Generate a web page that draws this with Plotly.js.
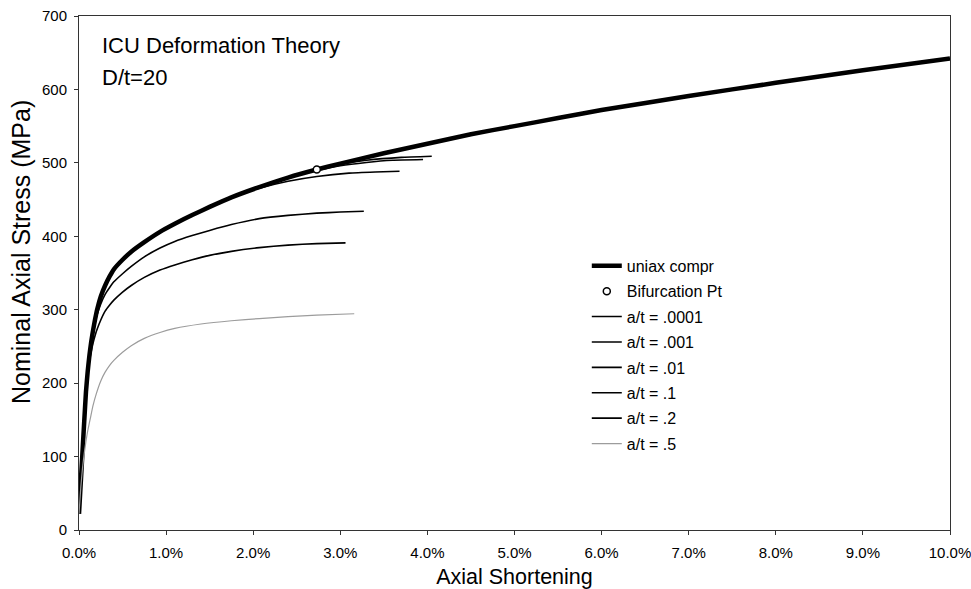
<!DOCTYPE html>
<html>
<head>
<meta charset="utf-8">
<script src="https://cdn.plot.ly/plotly-3.0.1.min.js"></script>
<style>html,body{margin:0;padding:0;background:#fff}#chart{width:971px;height:589px}</style>
</head>
<body>
<div id="chart"></div>
<script>
// Axial shortening (%) and nominal axial stress (MPa)
const uniaxX = [0, 0.03, 0.06, 0.08, 0.1, 0.12, 0.14, 0.16, 0.185, 0.21, 0.25, 0.3, 0.35, 0.4, 0.5, 0.6, 0.75, 0.93, 1.1, 1.3, 1.5, 1.75, 2.07, 2.4, 2.73, 3.0, 3.5, 4, 4.5, 5, 5.5, 6, 7, 8, 9, 10];
const uniaxY = [22, 85, 148, 188, 216, 238, 256, 271, 287, 301, 318, 333, 345, 355, 368, 379, 392, 406, 417, 429, 440, 453, 467, 480, 491, 499, 513, 526, 539, 550, 561, 572, 591, 609, 626, 642];

const bifX = [2.73];
const bifY = [491];

const a0001X = [0, 0.03, 0.06, 0.08, 0.1, 0.12, 0.14, 0.16, 0.185, 0.21, 0.25, 0.3, 0.35, 0.4, 0.5, 0.6, 0.75, 0.93, 1.1, 1.3, 1.5, 1.75, 2.07, 2.4, 2.73, 3.0, 3.3, 3.7, 4.05];
const a0001Y = [22, 85, 148, 188, 216, 238, 256, 271, 287, 301, 318, 333, 345, 355, 368, 379, 392, 406, 417, 429, 440, 453, 467, 480, 491, 498, 503.5, 507.5, 509];

const a001X = [0, 0.03, 0.06, 0.08, 0.1, 0.12, 0.14, 0.16, 0.185, 0.21, 0.25, 0.3, 0.35, 0.4, 0.5, 0.6, 0.75, 0.93, 1.1, 1.3, 1.5, 1.75, 2.07, 2.4, 2.73, 3.0, 3.3, 3.6, 3.95];
const a001Y = [22, 85, 148, 188, 216, 238, 256, 271, 287, 301, 318, 333, 345, 355, 368, 379, 392, 406, 417, 429, 440, 453, 467, 480, 489.5, 496, 500.5, 503.5, 504.5];

const a01X = [0, 0.03, 0.06, 0.08, 0.1, 0.12, 0.14, 0.16, 0.185, 0.21, 0.25, 0.3, 0.35, 0.4, 0.5, 0.6, 0.75, 0.93, 1.1, 1.3, 1.5, 1.75, 2.07, 2.4, 2.73, 3.1, 3.4, 3.68];
const a01Y = [22, 85, 148, 188, 216, 238, 256, 271, 287, 301, 318, 333, 345, 355, 368, 379, 392, 406, 417, 429, 440, 453, 465.5, 475, 481.5, 486, 487.5, 488.5];

const a1X = [0, 0.03, 0.06, 0.08, 0.1, 0.12, 0.14, 0.16, 0.185, 0.21, 0.25, 0.3, 0.35, 0.4, 0.5, 0.6, 0.75, 0.93, 1.1, 1.3, 1.5, 1.75, 2.07, 2.4, 2.73, 3.0, 3.27];
const a1Y = [22, 85, 148, 188, 216, 238, 255, 269, 283, 294, 308, 321, 330, 338, 349, 359, 372, 384, 393, 401, 408, 416, 424, 428.5, 431.5, 433, 434];

const a2X = [0, 0.03, 0.06, 0.08, 0.1, 0.12, 0.14, 0.16, 0.185, 0.21, 0.25, 0.3, 0.35, 0.4, 0.5, 0.6, 0.75, 0.93, 1.1, 1.3, 1.5, 1.75, 2.07, 2.4, 2.73, 3.06];
const a2Y = [22, 85, 148, 187, 213, 230, 243, 254, 265, 274, 286, 298, 306, 313, 324, 333, 344, 354, 361, 368, 374, 379.5, 384.5, 388, 390, 391];

const a5X = [0, 0.02, 0.04, 0.06, 0.08, 0.1, 0.13, 0.16, 0.2, 0.25, 0.3, 0.35, 0.4, 0.5, 0.6, 0.75, 0.93, 1.1, 1.4, 1.75, 2.07, 2.4, 2.73, 3.16];
const a5Y = [22, 57, 84, 104, 121, 135, 152, 169, 186, 203, 215, 224, 231, 242, 251, 261, 269, 274.5, 280.5, 285, 288, 290.5, 292.5, 294.5];

const names = ['uniax compr', 'Bifurcation Pt', 'a/t = .0001', 'a/t = .001', 'a/t = .01', 'a/t = .1', 'a/t = .2', 'a/t = .5'];

const thin = () => ({color: '#000', width: 1.6});
const traces = [
  {x: uniaxX, y: uniaxY, name: names[0], mode: 'lines', line: {color: '#000', width: 4.5}},
  {x: a0001X, y: a0001Y, name: names[2], mode: 'lines', line: thin()},
  {x: a001X, y: a001Y, name: names[3], mode: 'lines', line: thin()},
  {x: a01X, y: a01Y, name: names[4], mode: 'lines', line: thin()},
  {x: a1X, y: a1Y, name: names[5], mode: 'lines', line: thin()},
  {x: a2X, y: a2Y, name: names[6], mode: 'lines', line: thin()},
  {x: a5X, y: a5Y, name: names[7], mode: 'lines', line: {color: '#9c9c9c', width: 1.2}},
  {x: bifX, y: bifY, name: names[1], mode: 'markers', marker: {symbol: 'circle', size: 7, color: '#fff', line: {color: '#000', width: 1.5}}}
];
traces.forEach(t => {
  const r = names.indexOf(t.name) + 1;
  t.legendrank = r;
  t.legendgroup = 'g' + r;
  if (t.line) { t.line.shape = 'spline'; t.line.smoothing = 0.4; }
});

const font = 'Liberation Sans, Arial, Helvetica, sans-serif';
const axisCommon = {showgrid: false, zeroline: false, showline: true, linecolor: '#333', linewidth: 1,
  ticks: 'outside', ticklen: 4, tickcolor: '#333', tickfont: {family: font, size: 15, color: '#000'}};

const layout = {
  width: 971, height: 589,
  margin: {l: 79, r: 21, t: 16, b: 59},
  paper_bgcolor: '#fff', plot_bgcolor: '#fff',
  font: {family: font, color: '#000'},
  showlegend: true,
  legend: {x: 0.583, y: 0.547, xanchor: 'left', yanchor: 'top', bgcolor: 'rgba(0,0,0,0)',
    font: {family: font, size: 16, color: '#000'}, traceorder: 'grouped', tracegroupgap: 1.6},
  xaxis: Object.assign({}, axisCommon, {range: [0, 10], dtick: 1, tick0: 0, tickformat: '.1f', ticksuffix: '%', mirror: true,
    ticklabelstandoff: 5, ticklabeloverflow: 'allow',
    title: {text: 'Axial Shortening', font: {family: font, size: 21.5}, standoff: 8}}),
  yaxis: Object.assign({}, axisCommon, {range: [0, 700], dtick: 100, tick0: 0, mirror: true, ticklabelstandoff: 4, title: {text: ''}}),
  xaxis2: {overlaying: 'x', matches: 'x', range: [0, 10], dtick: 1, tick0: 0, ticks: 'inside', ticklen: 4, tickcolor: '#333', showticklabels: false, showgrid: false, zeroline: false, showline: false},
  yaxis2: {overlaying: 'y', matches: 'y', range: [0, 700], dtick: 100, tick0: 0, ticks: 'inside', ticklen: 4, tickcolor: '#333', showticklabels: false, showgrid: false, zeroline: false, showline: false},
  annotations: [
    {text: 'ICU Deformation Theory', xref: 'paper', yref: 'paper', x: 0.024, y: 0.9435, xanchor: 'left', yanchor: 'middle', showarrow: false, font: {family: font, size: 22, color: '#000'}},
    {text: 'D/t=20', xref: 'paper', yref: 'paper', x: 0.024, y: 0.8805, xanchor: 'left', yanchor: 'middle', showarrow: false, font: {family: font, size: 22, color: '#000'}},
    {text: 'Nominal Axial Stress (MPa)', xref: 'paper', yref: 'paper', x: -0.0665, y: 0.541, xanchor: 'center', yanchor: 'middle', textangle: -90, showarrow: false, font: {family: font, size: 25, color: '#000'}}
  ]
};

Plotly.newPlot('chart', traces, layout, {displayModeBar: false, staticPlot: true});
</script>
</body>
</html>
